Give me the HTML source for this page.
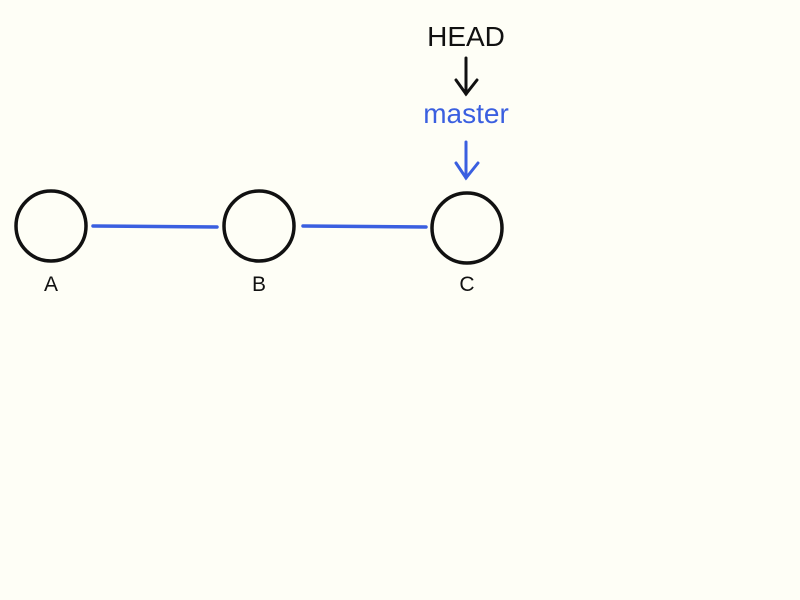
<!DOCTYPE html>
<html><head><style>
html,body{margin:0;padding:0;background:#fefef6;}
svg{display:block}
</style></head><body>
<svg width="800" height="600" viewBox="0 0 800 600" xmlns="http://www.w3.org/2000/svg">
<rect width="800" height="600" fill="#fefef6"/>
<g fill="none" stroke="#3a5fe0" stroke-width="3.5" stroke-linecap="round">
<line x1="93" y1="226" x2="217" y2="227"/>
<line x1="303" y1="226" x2="426" y2="227"/>
</g>
<g fill="#fefef6" stroke="#111" stroke-width="3.5">
<ellipse cx="51" cy="226" rx="35" ry="35"/>
<ellipse cx="259" cy="226" rx="35" ry="35"/>
<ellipse cx="467" cy="228" rx="35" ry="35"/>
</g>
<g font-family="Liberation Sans, sans-serif" font-size="21" fill="#111" text-anchor="middle">
<text x="51" y="291">A</text>
<text x="259" y="291">B</text>
<text x="467" y="291">C</text>
</g>
<text x="466" y="46" font-family="Liberation Sans, sans-serif" font-size="28" fill="#111" text-anchor="middle">HEAD</text>
<text x="466" y="123" font-family="Liberation Sans, sans-serif" font-size="28" fill="#3a5fe0" text-anchor="middle">master</text>
<g stroke="#111" stroke-width="3" fill="none" stroke-linecap="round">
<line x1="466" y1="58" x2="466" y2="94"/>
<polyline points="456,80 466,94 477,80"/>
</g>
<g stroke="#3a5fe0" stroke-width="3" fill="none" stroke-linecap="round">
<line x1="466" y1="142" x2="466" y2="178"/>
<polyline points="456,163 466,178 478,163"/>
</g>
</svg>
</body></html>
